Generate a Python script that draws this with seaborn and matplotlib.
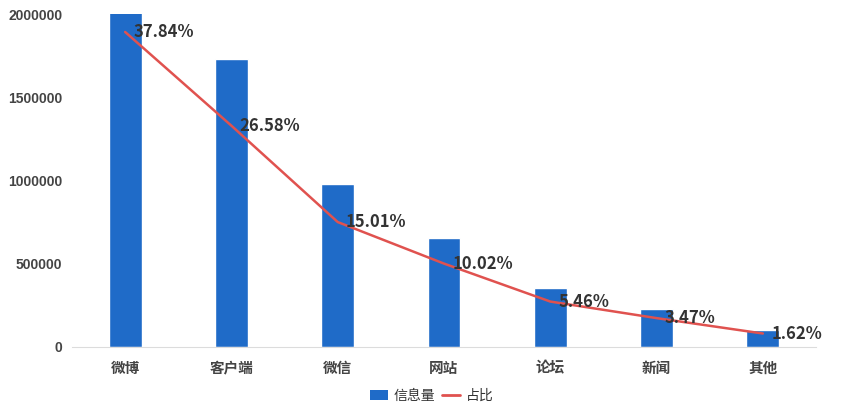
import matplotlib
matplotlib.use("Agg")
import matplotlib.pyplot as plt
import numpy as np
import seaborn as sns
from matplotlib.lines import Line2D
from matplotlib.patches import Patch

categories = ["微博", "客户端", "微信", "网站", "论坛", "新闻", "其他"]
volume = [2460000, 1730000, 978000, 652000, 356000, 226000, 105000]
share = [37.84, 26.58, 15.01, 10.02, 5.46, 3.47, 1.62]
y_ticks = [0, 500000, 1000000, 1500000, 2000000]

BAR_COLOR = "#1f6bc8"
LINE_COLOR = "#e0524f"
TEXT_COLOR = "#333333"
AXIS_COLOR = "#dcdcdc"

sns.set_style("white")
plt.rcParams["font.family"] = ["Noto Sans CJK SC", "DejaVu Sans"]

fig = plt.figure(figsize=(8.64, 4.16), dpi=100)
ax = fig.add_axes([72 / 864, 1 - 347 / 416, 744 / 864, 333 / 416])

# Bars: information volume
sns.barplot(x=categories, y=volume, color=BAR_COLOR, width=0.31,
            saturation=1, ax=ax)
ax.set_xlim(-0.5, len(categories) - 0.5)
ax.set_ylim(0, 2000000)
ax.set_yticks(y_ticks)
ax.set_yticklabels([str(t) for t in y_ticks], fontsize=10, fontweight="bold",
                   color="#444444", family="Liberation Sans")
ax.set_xticks(range(len(categories)))
ax.set_xticklabels(categories, fontsize=10.5, fontweight="bold", color="#444444")
ax.set_xticks(np.arange(-0.5, len(categories)), minor=True)
ax.tick_params(axis="x", which="major", length=0, pad=9)
ax.tick_params(axis="x", which="minor", length=5, color=AXIS_COLOR, width=1)
ax.tick_params(axis="y", length=0, pad=7)
for side in ["top", "right", "left"]:
    ax.spines[side].set_visible(False)
ax.spines["bottom"].set_color(AXIS_COLOR)
ax.set_xlabel("")
ax.set_ylabel("")

# Line: share on a hidden secondary axis
ax2 = ax.twinx()
x_pos = np.arange(len(categories))
sns.lineplot(x=x_pos, y=share, color=LINE_COLOR, linewidth=1.8, sort=False, ax=ax2)
ax2.set_ylim(0, 40)
ax2.set_xlim(-0.5, len(categories) - 0.5)
ax2.axis("off")

for xi, p in zip(x_pos, share):
    ax2.annotate(f"{p:.2f}%", (xi, p), xytext=(6, 0), textcoords="offset points",
                 ha="left", va="center", fontsize=12, fontweight="bold",
                 color=TEXT_COLOR)

handles = [Patch(facecolor=BAR_COLOR, edgecolor="none"),
           Line2D([0], [0], color=LINE_COLOR, linewidth=2)]
fig.legend(handles, ["信息量", "占比"], loc="center", bbox_to_anchor=(0.5, 1 - 396 / 416),
           ncol=2, frameon=False, fontsize=10, handlelength=1.3, handleheight=0.7,
           columnspacing=0.5, handletextpad=0.4, labelcolor=TEXT_COLOR)

fig.savefig("out.png", dpi=100)
